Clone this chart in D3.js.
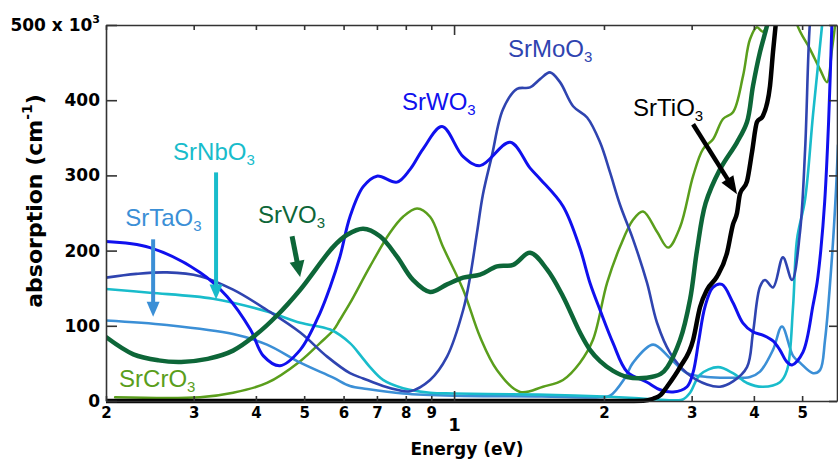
<!DOCTYPE html>
<html>
<head>
<meta charset="utf-8">
<script src="https://cdn.jsdelivr.net/npm/d3@7"></script>
<style>
  body { margin: 0; background: #fff; }
  svg { display: block; }
</style>
</head>
<body>
<svg id="chart" width="838" height="461"></svg>
<script>
// ---------------- DATA ----------------
// x ticks (energy in eV) and their labels
const energyTicks = [0.2, 0.3, 0.4, 0.5, 0.6, 0.7, 0.8, 0.9, 1, 2, 3, 4, 5];
const energyTickLabels = ["2", "3", "4", "5", "6", "7", "8", "9", "1", "2", "3", "4", "5"];
// y ticks (absorption, 10^3 cm^-1)
const absTicks = [0, 100, 200, 300, 400, 500];
const absTickLabels = ["0", "100", "200", "300", "400", "500 x 10"];

// series: [energy (eV), absorption (10^3 cm^-1)]
const SrWO3 = [[0.200,212],[0.245,204],[0.309,171],[0.350,139],[0.390,95],[0.414,60],[0.447,47],[0.491,68],[0.538,117],[0.564,152],[0.590,192],[0.618,245],[0.657,285],[0.700,299],[0.768,291],[0.816,308],[0.866,335],[0.946,365],[1.043,325],[1.128,313],[1.296,344],[1.420,310],[1.490,295],[1.655,259],[1.790,203],[1.875,157],[1.964,121],[2.086,77],[2.225,39],[2.441,25],[2.592,15],[2.753,12],[2.937,19],[3.020,38],[3.100,80],[3.190,125],[3.310,151],[3.450,155],[3.630,131],[3.800,104],[3.980,92],[4.190,87],[4.370,80],[4.510,68],[4.660,52],[4.770,48],[5.020,65],[5.260,128],[5.360,158],[5.450,200],[5.550,265],[5.650,370],[5.750,520]];
const SrMoO3 = [[0.200,164],[0.230,169],[0.265,171],[0.309,166],[0.360,148],[0.421,121],[0.491,91],[0.556,59],[0.618,37],[0.657,30],[0.720,20],[0.768,15],[0.816,13],[0.895,28],[0.968,59],[1.043,121],[1.077,165],[1.112,224],[1.143,275],[1.190,325],[1.254,388],[1.338,415],[1.421,417],[1.488,428],[1.558,437],[1.632,424],[1.734,392],[1.850,377],[1.964,344],[2.057,304],[2.154,261],[2.288,215],[2.441,157],[2.556,104],[2.715,64],[2.937,37],[3.221,22],[3.420,19],[3.632,26],[3.875,45],[3.984,91],[4.115,152],[4.211,161],[4.370,151],[4.576,191],[4.772,161],[4.950,224],[5.070,335],[5.186,505],[5.300,560]];
const SrNbO3 = [[0.200,149],[0.245,144],[0.328,136],[0.421,119],[0.491,104],[0.564,95],[0.618,77],[0.650,60],[0.678,45],[0.720,28],[0.790,17],[0.895,11],[1.000,10],[1.300,9],[1.600,8],[2.000,6],[2.300,4],[2.550,2],[2.800,1],[2.880,2],[2.978,11],[3.119,35],[3.389,45],[3.632,37],[3.875,24],[4.170,19],[4.513,25],[4.663,41],[4.794,125],[4.883,215],[5.068,268],[5.259,381],[5.482,499],[5.600,560]];
const SrTaO3 = [[0.200,107],[0.265,101],[0.360,89],[0.421,75],[0.491,51],[0.572,31],[0.618,20],[0.669,16],[0.790,10],[1.000,7],[1.500,6],[1.964,5],[2.057,7],[2.200,30],[2.288,51],[2.510,75],[2.715,57],[2.937,37],[3.221,32],[3.533,31],[3.930,32],[4.115,39],[4.370,68],[4.555,99],[4.794,60],[4.950,51],[5.260,37],[5.431,41],[5.558,81],[5.741,192],[5.848,280],[5.902,340]];
const SrVO3 = [[0.200,85],[0.227,62],[0.255,54],[0.283,52],[0.320,56],[0.360,67],[0.400,88],[0.440,113],[0.491,148],[0.572,205],[0.610,221],[0.657,229],[0.710,219],[0.768,192],[0.827,161],[0.895,145],[0.968,155],[1.043,164],[1.128,168],[1.220,179],[1.314,181],[1.421,197],[1.537,175],[1.655,139],[1.790,91],[1.875,68],[1.964,53],[2.086,40],[2.225,32],[2.440,31],[2.600,36],[2.680,45],[2.843,81],[2.978,135],[3.076,201],[3.200,263],[3.420,308],[3.700,344],[3.875,371],[3.984,419],[4.115,464],[4.250,499],[4.400,545]];
const SrCrO3 = [[0.2086,5],[0.309,5],[0.360,11],[0.421,24],[0.491,53],[0.538,77],[0.572,94],[0.590,108],[0.618,130],[0.678,179],[0.744,224],[0.790,245],[0.843,256],[0.895,245],[0.950,205],[1.043,148],[1.128,85],[1.220,41],[1.357,12],[1.509,19],[1.655,28],[1.790,51],[1.900,81],[2.029,157],[2.154,205],[2.288,241],[2.396,252],[2.556,225],[2.690,204],[2.843,231],[3.020,299],[3.162,335],[3.312,348],[3.468,375],[3.632,384],[3.804,432],[3.929,481],[4.058,497],[4.170,491],[4.310,510],[4.510,560],[4.730,560],[4.883,501],[5.186,468],[5.431,441],[5.609,424],[5.741,468],[5.850,510]];
const SrTiO3 = [[0.200,0],[0.600,0],[1.000,0],[1.600,0],[2.200,0],[2.400,0.3],[2.510,3],[2.600,8],[2.677,19],[2.843,45],[3.020,81],[3.119,125],[3.221,148],[3.370,165],[3.533,197],[3.632,235],[3.700,250],[3.750,275],[3.875,292],[3.966,331],[4.058,371],[4.170,379],[4.310,419],[4.370,464],[4.470,530]];

// label anchors [energy, absorption] (baseline-left of text)
const labelAnchors = {
  SrWO3: [0.786, 387], SrMoO3: [1.283, 457], SrTiO3: [2.288, 379],
  SrNbO3: [0.2727, 321], SrTaO3: [0.2185, 233], SrVO3: [0.4041, 237], SrCrO3: [0.2125, 19]
};
// arrows [from, to] in [energy, absorption]
const arrows = [
  { from: [0.3327, 304], to: [0.3327, 135], color: "#19bccb", w: 4, hl: 15, hw: 13 },
  { from: [0.2487, 215], to: [0.2487, 112], color: "#3b8fd6", w: 4, hl: 15, hw: 13 },
  { from: [0.4728, 219], to: [0.4907, 165], color: "#0d6638", w: 5, hl: 16, hw: 15 },
  { from: [3.02, 368], to: [3.70, 275], color: "#000000", w: 4.5, hl: 18, hw: 14 }
];

// ---------------- CHART ----------------
const svg = d3.select("#chart");
const L = 106, R = 837, T = 25, B = 401;
const x = d3.scaleLog().domain([0.2, 5.875]).range([L, R]);
const y = d3.scaleLinear().domain([0, 500]).range([B, T]);

svg.append("defs").append("clipPath").attr("id", "clip")
  .append("rect").attr("x", L).attr("y", T).attr("width", R - L).attr("height", B - T + 5);

const series = [
  { name: "SrCrO3", data: SrCrO3, color: "#5a9e1c", width: 2.5 },
  { name: "SrTaO3", data: SrTaO3, color: "#3b8fd6", width: 2.6 },
  { name: "SrNbO3", data: SrNbO3, color: "#19bccb", width: 2.6 },
  { name: "SrMoO3", data: SrMoO3, color: "#2f44b0", width: 2.6 },
  { name: "SrWO3",  data: SrWO3,  color: "#1010ee", width: 3 },
  { name: "SrVO3",  data: SrVO3,  color: "#0d6638", width: 4.5 },
  { name: "SrTiO3", data: SrTiO3, color: "#000000", width: 4.5 }
];

const smooth = d3.line().x(d => x(d[0])).y(d => Math.min(y(d[1]), B)).curve(d3.curveCatmullRom.alpha(0.5));
const mono = d3.line().x(d => x(d[0])).y(d => y(d[1])).curve(d3.curveMonotoneX);

svg.append("g").attr("clip-path", "url(#clip)")
  .selectAll("path").data(series).join("path")
  .attr("d", d => (d.name === "SrTiO3" ? mono : smooth)(d.data))
  .attr("fill", "none")
  .attr("stroke", d => d.color)
  .attr("stroke-width", d => d.width)
  .attr("stroke-linejoin", "round")
  .attr("stroke-linecap", "round");

// ---- axes ----
const axisColor = "#333";
function styleAxis(g) {
  g.select(".domain").attr("stroke", axisColor).attr("stroke-width", 1.6);
  g.selectAll(".tick line").attr("stroke", axisColor).attr("stroke-width", 1.6);
  g.selectAll(".tick text").attr("fill", "#000")
    .attr("font-family", "DejaVu Sans, Verdana, sans-serif").attr("font-weight", "bold");
}

const gx = svg.append("g").attr("transform", `translate(0,${B})`)
  .call(d3.axisBottom(x).tickValues(energyTicks)
    .tickFormat((d, i) => energyTickLabels[i]).tickSizeInner(-5).tickSizeOuter(0).tickPadding(6));
styleAxis(gx);
gx.selectAll(".tick text").attr("font-size", 15);
gx.selectAll(".tick").filter(d => d === 1).each(function () {
  d3.select(this).select("line").attr("y2", -10);
  d3.select(this).select("text").attr("font-size", 18).attr("y", 17);
});

const gt = svg.append("g").attr("transform", `translate(0,${T})`)
  .call(d3.axisTop(x).tickValues(energyTicks).tickFormat("").tickSizeInner(-5).tickSizeOuter(0));
styleAxis(gt);
gt.selectAll(".tick").filter(d => d === 1).select("line").attr("y2", 10);

const gy = svg.append("g").attr("transform", `translate(${L},0)`)
  .call(d3.axisLeft(y).tickValues(absTicks)
    .tickFormat((d, i) => absTickLabels[i]).tickSizeInner(-11).tickSizeOuter(0).tickPadding(6));
styleAxis(gy);
gy.selectAll(".tick text").attr("font-size", 17);
gy.selectAll(".tick").filter(d => d === 500).select("text").each(function () {
  const t = d3.select(this);
  const base = t.text();
  t.text(null);
  t.append("tspan").text(base);
  t.append("tspan").attr("font-size", 11).attr("dy", -8).text("3");
});

const gr = svg.append("g").attr("transform", `translate(${R},0)`)
  .call(d3.axisRight(y).tickValues(absTicks).tickFormat("").tickSizeInner(-8).tickSizeOuter(0));
styleAxis(gr);

// axis titles
svg.append("text")
  .attr("x", 467).attr("y", 455).attr("text-anchor", "middle")
  .attr("font-family", "DejaVu Sans, Verdana, sans-serif").attr("font-weight", "bold")
  .attr("font-size", 17).text("Energy (eV)");

const yt = svg.append("text")
  .attr("transform", "translate(42,201) rotate(-90)").attr("text-anchor", "middle")
  .attr("font-family", "DejaVu Sans, Verdana, sans-serif").attr("font-weight", "bold")
  .attr("font-size", 22);
yt.append("tspan").text("absorption (cm");
yt.append("tspan").attr("font-size", 14).attr("dy", -10).text("-1");
yt.append("tspan").attr("dy", 10).text(")");

// ---- series labels ----
const labelFont = "Liberation Sans, Arial, Helvetica, sans-serif";
series.forEach(s => {
  const a = labelAnchors[s.name];
  const t = svg.append("text")
    .attr("x", x(a[0])).attr("y", y(a[1]))
    .attr("font-family", labelFont).attr("font-size", 24).attr("fill", s.color);
  t.append("tspan").text(s.name.slice(0, -1));
  t.append("tspan").attr("font-size", 15).attr("dy", 5).text("3");
});

// ---- arrows ----
arrows.forEach(a => {
  const x1 = x(a.from[0]), y1 = y(a.from[1]);
  const x2 = x(a.to[0]), y2 = y(a.to[1]);
  const dx = x2 - x1, dy = y2 - y1, len = Math.hypot(dx, dy);
  const ux = dx / len, uy = dy / len;
  const bx = x2 - ux * a.hl, by = y2 - uy * a.hl;
  svg.append("line")
    .attr("x1", x1).attr("y1", y1).attr("x2", bx + ux * 2).attr("y2", by + uy * 2)
    .attr("stroke", a.color).attr("stroke-width", a.w);
  const px = -uy, py = ux;
  svg.append("path")
    .attr("d", `M${x2},${y2}L${bx + px * a.hw / 2},${by + py * a.hw / 2}L${bx - px * a.hw / 2},${by - py * a.hw / 2}Z`)
    .attr("fill", a.color);
});
</script>
</body>
</html>
